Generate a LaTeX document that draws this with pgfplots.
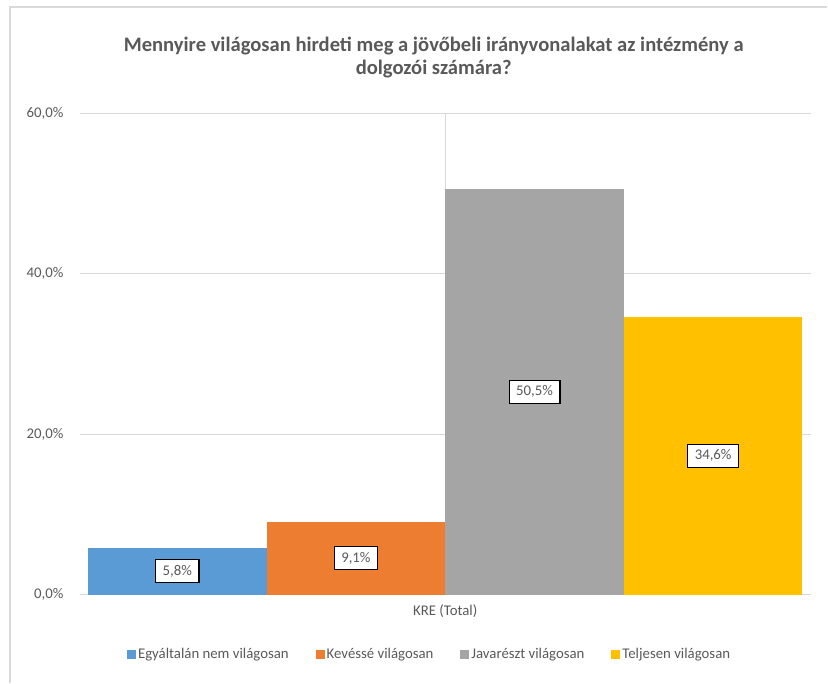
\documentclass[border=0pt]{standalone}
\usepackage{pgfplots}
\pgfplotsset{compat=1.18}
\usepackage{fontspec}
\setmainfont{Carlito}
\definecolor{cblue}{RGB}{91,155,213}
\definecolor{corange}{RGB}{237,125,49}
\definecolor{cgray}{RGB}{165,165,165}
\definecolor{cyellow}{RGB}{255,192,0}
\definecolor{txt}{RGB}{89,89,89}
\definecolor{gridc}{RGB}{217,217,217}
\pgfplotsset{sqlegend/.style={legend image code/.code={\fill[##1] (0pt,-4.5pt) rectangle (9pt,4.5pt);}}}
\begin{document}
\begin{tikzpicture}
\begin{axis}[
  at={(0pt,0pt)}, anchor=south west,
  scale only axis, width=732pt, height=482pt,
  xmin=-0.545, xmax=3.55, ymin=0, ymax=60,
  ytick={0,20,40,60},
  xtick={1.5}, xticklabels={KRE (Total)},
  major tick length=0pt,
  xmajorgrids, ymajorgrids,
  grid style={gridc, line width=0.8pt},
  separate axis lines,
  axis x line*=bottom, axis y line*=left,
  x axis line style={draw=gridc, line width=1.3pt, -},
  y axis line style={draw=none},
  /pgf/number format/assume math mode=true,
  yticklabel={\pgfmathprintnumber[fixed,fixed zerofill,precision=1,use comma]{\tick}\%},
  yticklabel style={xshift=-13pt},
  xticklabel style={yshift=-7pt},
  ticklabel style={font=\fontsize{14.8}{17}\selectfont, text=txt},
  nodes near coords={\pgfmathprintnumber[fixed,fixed zerofill,precision=1,use comma]{\pgfplotspointmeta}\%},
  visualization depends on={y/2 \as \halfy},
  every node near coord/.append style={anchor=center, draw=black, line width=1.3pt, fill=white,
     text=txt, font=\fontsize{14.8}{17}\selectfont, inner xsep=7pt, inner ysep=5.5pt,
     shift={(axis direction cs:0,-\halfy)}},
  legend columns=4,
  legend style={at={(0.478,-0.1245)}, anchor=center, draw=none, fill=none,
     font=\fontsize{14.8}{17}\selectfont, text=txt,
     /tikz/every even column/.append style={column sep=25pt}},
  legend cell align=left,
  clip=false,
]
\addplot[ybar, bar width=1, bar shift=0pt, fill=cblue, draw=none, sqlegend] coordinates {(0,5.8)};
\addplot[ybar, bar width=1, bar shift=0pt, fill=corange, draw=none, sqlegend] coordinates {(1,9.1)};
\addplot[ybar, bar width=1, bar shift=0pt, fill=cgray, draw=none, sqlegend] coordinates {(2,50.5)};
\addplot[ybar, bar width=1, bar shift=0pt, fill=cyellow, draw=none, sqlegend] coordinates {(3,34.6)};
\legend{Egyáltalán nem világosan, Kevéssé világosan, Javarészt világosan, Teljesen világosan}
\end{axis}
% image px (X,Y) -> (X-80, 595-Y)
\path (-80pt,595pt) rectangle (748pt,-88pt);
\draw[gridc, line width=1.2pt] (-70pt,-88pt) -- (-70pt,588pt) -- (748pt,588pt);
\node[align=center, text=txt, font=\bfseries\fontsize{20.6}{23.5}\selectfont] at (354pt,537.5pt)
  {Mennyire világosan hirdeti meg a jövőbeli irányvonalakat az intézmény a\\dolgozói számára?};
\end{tikzpicture}
\end{document}
